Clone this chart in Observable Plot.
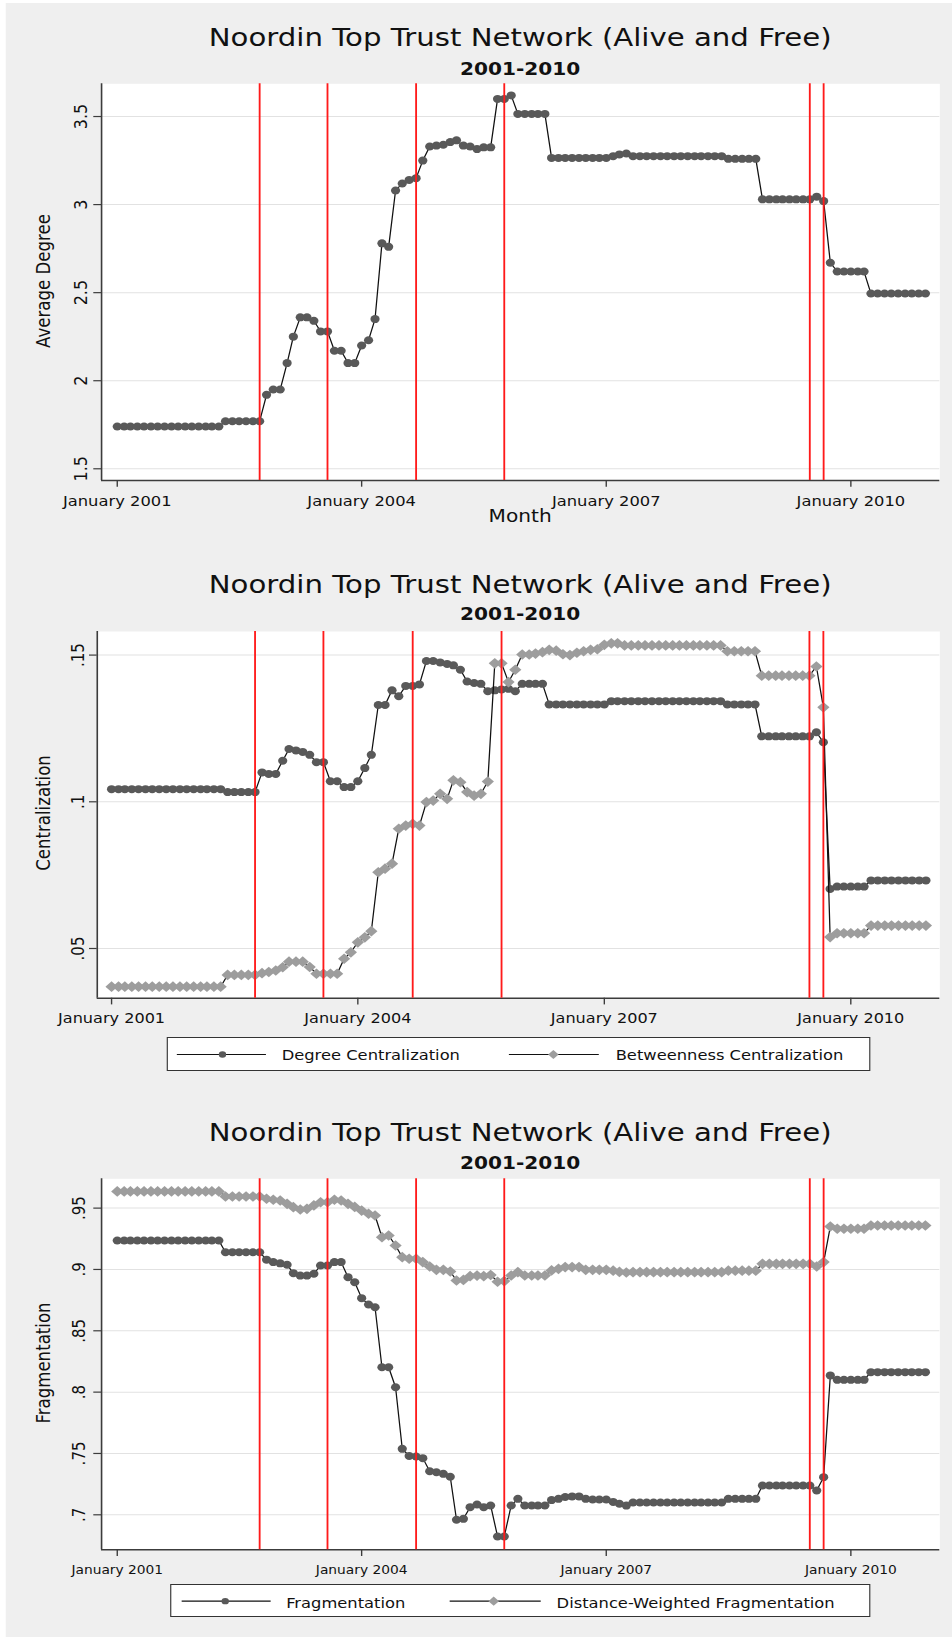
<!DOCTYPE html>
<html><head><meta charset="utf-8">
<script src="https://cdn.jsdelivr.net/npm/d3@7"></script>
<script src="https://cdn.jsdelivr.net/npm/@observablehq/plot@0.6"></script>
<style>
html,body{margin:0;padding:0;background:#fff;width:952px;height:1637px;overflow:hidden;}
#page{position:absolute;left:0;top:0;width:828px;height:1637px;transform:scaleX(1.149758);transform-origin:0 0;font-family:"DejaVu Sans",sans-serif;color:#111;}
#bg{position:absolute;left:5.2px;top:3px;right:0;bottom:0;background:#efefef;}
.t{position:absolute;white-space:nowrap;line-height:1;text-align:center;}
.title{font-size:25.4px;left:87.84px;width:729.1px;}
.sub{font-size:17.5px;font-weight:bold;left:87.84px;width:729.1px;}
.ytitle{font-size:16.6px;transform:translate(-50%,-50%) rotate(-90deg);}
.legend{position:absolute;background:#fff;border:1px solid #333;box-sizing:border-box;}
.legend span{position:absolute;white-space:nowrap;line-height:1;font-size:14.2px;}
.legend svg{position:absolute;left:0;top:0;}
svg.plotsvg{position:absolute;left:0;}
</style></head>
<body><div id="page"><div id="bg"></div></div>
<script>
// ---------- data ----------
const monthStart = "2001-01-01";
const monthEnd = "2011-01-01";
const eventMonths = ["2002-10-01","2003-08-01","2004-09-01","2005-10-01","2009-07-01","2009-09-01"];
const xTickDates = ["2001-01-01","2004-01-01","2007-01-01","2010-01-01"];
const xTickLabels = ["January 2001","January 2004","January 2007","January 2010"];

const averageDegree = [
1.74,1.74,1.74,1.74,1.74,1.74,1.74,1.74,1.74,1.74,1.74,1.74,1.74,1.74,1.74,1.74,
1.77,1.77,1.77,1.77,1.77,1.77,
1.92,1.95,1.95,2.10,2.25,2.36,2.36,2.34,2.28,2.28,2.17,2.17,2.10,2.10,2.20,2.23,2.35,2.78,2.76,
3.08,3.12,3.14,3.15,3.25,3.33,3.335,3.34,3.355,3.365,3.335,3.33,3.315,3.325,3.325,3.60,3.60,3.62,
3.515,3.515,3.515,3.515,3.515,
3.265,3.265,3.265,3.265,3.265,3.265,3.265,3.265,3.265,
3.275,3.285,3.29,
3.275,3.275,3.275,3.275,3.275,3.275,3.275,3.275,3.275,3.275,3.275,3.275,3.275,3.275,
3.26,3.26,3.26,3.26,3.26,
3.03,3.03,3.03,3.03,3.03,3.03,3.03,3.03,
3.045,3.02,2.67,
2.62,2.62,2.62,2.62,2.62,
2.495,2.495,2.495,2.495,2.495,2.495,2.495,2.495,2.495];

const degreeCentralization = [
0.1043,0.1043,0.1043,0.1043,0.1043,0.1043,0.1043,0.1043,0.1043,0.1043,0.1043,0.1043,0.1043,0.1043,0.1043,0.1043,0.1043,
0.1033,0.1033,0.1033,0.1033,0.1033,
0.110,0.1095,0.1095,0.114,0.118,0.1175,0.117,0.116,0.1135,0.1135,0.107,0.107,0.105,0.105,0.107,0.1115,0.116,
0.133,0.133,0.138,0.136,0.1395,0.1395,0.140,0.148,0.148,0.1475,0.147,0.1465,0.145,0.141,0.1405,0.1402,
0.1377,0.138,0.1383,0.1385,0.1377,
0.1402,0.1402,0.1402,0.1402,
0.1332,0.1332,0.1332,0.1332,0.1332,0.1332,0.1332,0.1332,0.1332,
0.1343,0.1343,0.1343,0.1343,0.1343,0.1343,0.1343,0.1343,0.1343,0.1343,0.1343,0.1343,0.1343,0.1343,0.1343,0.1343,0.1343,
0.1332,0.1332,0.1332,0.1332,0.1332,
0.1223,0.1223,0.1223,0.1223,0.1223,0.1223,0.1223,0.1223,
0.1237,0.1203,0.0703,
0.0711,0.0711,0.0711,0.0711,0.0711,
0.0732,0.0732,0.0732,0.0732,0.0732,0.0732,0.0732,0.0732,0.0732];

const betweennessCentralization = [
0.037,0.037,0.037,0.037,0.037,0.037,0.037,0.037,0.037,0.037,0.037,0.037,0.037,0.037,0.037,0.037,0.037,
0.041,0.041,0.041,0.041,0.041,
0.0416,0.042,0.0425,0.0436,0.0455,0.0455,0.0455,0.0437,0.0414,0.0414,0.0414,0.0414,
0.0465,0.0487,0.0521,0.0538,0.0559,0.076,0.0772,0.0789,0.0908,0.0919,0.0925,0.0919,
0.0999,0.1004,0.1027,0.101,0.1073,0.1067,0.1033,0.1021,0.1027,0.1069,
0.1472,0.1472,0.1408,0.145,
0.1502,0.1502,0.1505,0.151,0.1518,0.1515,0.1503,0.150,0.1508,0.1513,0.1518,0.152,0.1535,0.154,0.154,
0.1533,0.1533,0.1533,0.1533,0.1533,0.1533,0.1533,0.1533,0.1533,0.1533,0.1533,0.1533,0.1533,0.1533,0.1533,
0.1513,0.1513,0.1513,0.1513,0.1513,
0.143,0.143,0.143,0.143,0.143,0.143,0.143,0.143,
0.1461,0.1322,0.0539,
0.0552,0.0552,0.0552,0.0552,0.0552,
0.0578,0.0578,0.0578,0.0578,0.0578,0.0578,0.0578,0.0578,0.0578];

const fragmentation = [
0.9236,0.9236,0.9236,0.9236,0.9236,0.9236,0.9236,0.9236,0.9236,0.9236,0.9236,0.9236,0.9236,0.9236,0.9236,0.9236,
0.914,0.914,0.914,0.914,0.914,0.914,
0.908,0.906,0.905,0.9038,0.897,0.895,0.895,0.8965,0.9032,0.9032,0.906,0.906,0.8937,0.8896,0.8766,0.8714,0.8692,
0.8203,0.8203,0.804,0.7538,0.748,0.7475,0.7462,0.7355,0.7347,0.7334,0.731,
0.696,0.6967,0.7062,0.7084,0.7062,0.7076,0.6823,0.6823,0.7076,0.713,
0.7076,0.7076,0.7076,0.7076,
0.712,0.713,0.7145,0.715,0.715,0.713,0.7125,0.7125,0.7125,0.7105,0.709,0.7075,
0.710,0.710,0.710,0.710,0.710,0.710,0.710,0.710,0.710,0.710,0.710,0.710,0.710,0.710,
0.713,0.713,0.713,0.713,0.713,
0.7239,0.7239,0.7239,0.7239,0.7239,0.7239,0.7239,0.7239,
0.7198,0.7307,0.8136,
0.810,0.810,0.810,0.810,0.810,
0.8163,0.8163,0.8163,0.8163,0.8163,0.8163,0.8163,0.8163,0.8163];

const distanceWeightedFragmentation = [
0.9636,0.9636,0.9636,0.9636,0.9636,0.9636,0.9636,0.9636,0.9636,0.9636,0.9636,0.9636,0.9636,0.9636,0.9636,0.9636,
0.9595,0.9595,0.9595,0.9595,0.9595,0.9595,
0.9576,0.9568,0.9562,0.9535,0.9508,0.9489,0.9494,0.9522,0.9548,0.9548,0.9568,0.9562,0.9535,0.951,0.948,0.9454,0.944,
0.9263,0.9277,0.9195,0.910,0.9087,0.9087,0.906,0.9024,0.8997,0.8997,0.8983,
0.891,0.8915,0.8945,0.895,0.8945,0.8955,0.890,0.8905,0.8951,0.8978,
0.8951,0.8951,0.8951,0.8951,
0.8992,0.9005,0.9019,0.9019,0.9019,0.8997,0.8997,0.8997,0.8997,0.899,0.898,0.8975,
0.8978,0.8978,0.8978,0.8978,0.8978,0.8978,0.8978,0.8978,0.8978,0.8978,0.8978,0.8978,0.8978,0.8978,
0.899,0.899,0.899,0.899,0.899,
0.9046,0.9046,0.9046,0.9046,0.9046,0.9046,0.9046,0.9046,
0.9024,0.906,0.935,
0.9332,0.9332,0.9332,0.9332,0.9332,
0.9358,0.9358,0.9358,0.9358,0.9358,0.9358,0.9358,0.9358,0.9358];

const ticks1 = [1.5, 2, 2.5, 3, 3.5];
const tickLabels1 = ["1.5", "2", "2.5", "3", "3.5"];
const ticks2 = [0.05, 0.1, 0.15];
const tickLabels2 = [".05", ".1", ".15"];
const ticks3 = [0.7, 0.75, 0.8, 0.85, 0.9, 0.95];
const tickLabels3 = [".7", ".75", ".8", ".85", ".9", ".95"];

const titleText = "Noordin Top Trust Network (Alive and Free)";
const subtitleText = "2001-2010";
const legend2 = ["Degree Centralization", "Betweenness Centralization"];
const legend3 = ["Fragmentation", "Distance-Weighted Fragmentation"];

// ---------- rendering ----------
const page = document.getElementById("page");
const months = d3.utcMonth.range(new Date(monthStart), new Date(monthEnd));
const events = eventMonths.map(d => new Date(d));
const xTicks = xTickDates.map(d => new Date(d));
const axisColor = "#3c3c3c";
const W = 828;

function addText(cls, text, left, top, extra) {
  const el = document.createElement("div");
  el.className = "t " + cls;
  el.textContent = text;
  if (left != null) el.style.left = left + "px";
  el.style.top = top + "px";
  if (extra) Object.assign(el.style, extra);
  page.appendChild(el);
  return el;
}

function panel(cfg) {
  const rows = months.map((d, i) => ({date: d, a: cfg.a[i], b: cfg.b ? cfg.b[i] : null}));
  const yRows = cfg.yTicks.map((t, i) => ({t, label: cfg.yLabels[i]}));
  const marks = [
    Plot.frame({fill: "white", stroke: "none"}),
    Plot.gridY(cfg.yTicks, {stroke: "#e2e2e2", strokeOpacity: 1, strokeWidth: 1}),
    Plot.ruleX([cfg.xDomain[0]], {stroke: axisColor, strokeWidth: 1.4}),
    Plot.ruleY([cfg.yDomain[0]], {stroke: axisColor, strokeWidth: 1.4}),
    Plot.axisY(cfg.yTicks, {tickSize: 6.7, tickFormat: () => "", stroke: axisColor, strokeWidth: 1.2, label: null}),
    Plot.axisX(xTicks, {tickSize: 6.7, tickPadding: cfg.xPad, fontSize: cfg.xFont, fill: "#111", stroke: axisColor, strokeWidth: 1.2, label: null,
      tickFormat: d => xTickLabels[xTicks.findIndex(t => +t === +d)]}),
    Plot.text(yRows, {frameAnchor: "left", y: "t", text: "label", rotate: -90, textAnchor: "middle", lineAnchor: "bottom",
      dx: cfg.yDx, fontSize: cfg.yFont, fontFamily: "DejaVu Sans", fill: "#111"}),
    Plot.line(rows, {x: "date", y: "a", stroke: "#111", strokeWidth: 1.1}),
    Plot.dot(rows, {x: "date", y: "a", r: 4.0, fill: "#595959", symbol: "circle"})
  ];
  if (cfg.b) {
    marks.push(Plot.line(rows, {x: "date", y: "b", stroke: "#111", strokeWidth: 1.1}));
    marks.push(Plot.dot(rows, {x: "date", y: "b", r: 4.8, fill: "#9d9d9d", symbol: "diamond2"}));
  }
  marks.push(Plot.ruleX(events, {stroke: "#ff1a1a", strokeWidth: 1.6}));
  const svg = Plot.plot({
    width: W, height: cfg.height,
    marginTop: cfg.mt, marginBottom: cfg.mb, marginLeft: cfg.ml, marginRight: cfg.mr,
    x: {type: "utc", domain: cfg.xDomain, label: null},
    y: {domain: cfg.yDomain, label: null},
    style: {fontFamily: "DejaVu Sans", fontSize: cfg.xFont + "px", background: "transparent", color: "#111", overflow: "visible"},
    marks
  });
  svg.classList.add("plotsvg");
  svg.style.top = cfg.top + "px";
  page.appendChild(svg);
}

const dom13 = [new Date(Date.UTC(2000, 9, 22, 17)), new Date(Date.UTC(2011, 1, 3, 19))];
const dom2 = [new Date(Date.UTC(2000, 9, 29, 10)), new Date(Date.UTC(2011, 1, 1, 0))];

// Panel 1
addText("title", titleText, null, 25.2);
addText("sub", subtitleText, null, 60.5);
panel({a: averageDegree, top: 60, height: 480, mt: 23.3, mb: 60, ml: 87.84, mr: 11.05,
  xDomain: dom13, yDomain: [1.4335, 3.6858], yTicks: ticks1, yLabels: tickLabels1,
  xPad: 8.9, xFont: 14.2, yDx: -12.5, yFont: 16});
addText("", "Month", 87.84, 507.9, {width: "729.1px", fontSize: "17.5px"});
addText("ytitle", "Average Degree", 38.6, 280.7);

// Panel 2
addText("title", titleText, null, 571.8);
addText("sub", subtitleText, null, 606.2);
panel({a: degreeCentralization, b: betweennessCentralization, top: 625, height: 405, mt: 6, mb: 32.3, ml: 84.1, mr: 11.05,
  xDomain: dom2, yDomain: [0.03306, 0.15804], yTicks: ticks2, yLabels: tickLabels2,
  xPad: 7.7, xFont: 14, yDx: -11.8, yFont: 15});
addText("ytitle", "Centralization", 38.6, 813);

// Panel 3
addText("title", titleText, null, 1120.2);
addText("sub", subtitleText, null, 1154.7);
panel({a: fragmentation, b: distanceWeightedFragmentation, top: 1172, height: 408, mt: 6.3, mb: 30.7, ml: 87.84, mr: 11.05,
  xDomain: dom13, yDomain: [0.67147, 0.9739], yTicks: ticks3, yLabels: tickLabels3,
  xPad: 8.5, xFont: 12, yDx: -14, yFont: 15});
addText("ytitle", "Fragmentation", 38.6, 1363);

// Legends (HTML)
function legend(box, items) {
  const div = document.createElement("div");
  div.className = "legend";
  Object.assign(div.style, {left: box.left + "px", top: box.top + "px", width: box.width + "px", height: box.height + "px"});
  const ns = "http://www.w3.org/2000/svg";
  const svg = document.createElementNS(ns, "svg");
  svg.setAttribute("width", box.width); svg.setAttribute("height", box.height);
  const cy = box.height / 2 - 0.5;
  items.forEach(it => {
    const ln = document.createElementNS(ns, "line");
    ln.setAttribute("x1", it.x1); ln.setAttribute("x2", it.x2); ln.setAttribute("y1", cy); ln.setAttribute("y2", cy);
    ln.setAttribute("stroke", "#111"); ln.setAttribute("stroke-width", "1.1");
    svg.appendChild(ln);
    if (it.sym === "circle") {
      const c = document.createElementNS(ns, "circle");
      c.setAttribute("cx", it.cx); c.setAttribute("cy", cy); c.setAttribute("r", 3.2); c.setAttribute("fill", "#595959");
      svg.appendChild(c);
    } else {
      const p = document.createElementNS(ns, "path");
      const r = 4.6;
      p.setAttribute("d", `M${it.cx},${cy - r}L${it.cx + r},${cy}L${it.cx},${cy + r}L${it.cx - r},${cy}Z`);
      p.setAttribute("fill", "#9d9d9d");
      svg.appendChild(p);
    }
    const sp = document.createElement("span");
    sp.textContent = it.label;
    sp.style.left = it.tx + "px"; sp.style.top = box.textTop + "px";
    div.appendChild(sp);
  });
  div.appendChild(svg);
  page.appendChild(div);
}
legend({left: 145.2, top: 1036.7, width: 611.4, height: 34, textTop: 10.8}, [
  {x1: 7.8, x2: 85.3, cx: 47.5, sym: "circle", label: legend2[0], tx: 98.8},
  {x1: 296.6, x2: 374.8, cx: 335.3, sym: "diamond", label: legend2[1], tx: 389.3}
]);
legend({left: 148.4, top: 1584, width: 608.2, height: 33.3, textTop: 10.5}, [
  {x1: 9, x2: 86.4, cx: 46.9, sym: "circle", label: legend3[0], tx: 99.5},
  {x1: 242.1, x2: 321.3, cx: 280.4, sym: "diamond", label: legend3[1], tx: 334.7}
]);
</script></body></html>
